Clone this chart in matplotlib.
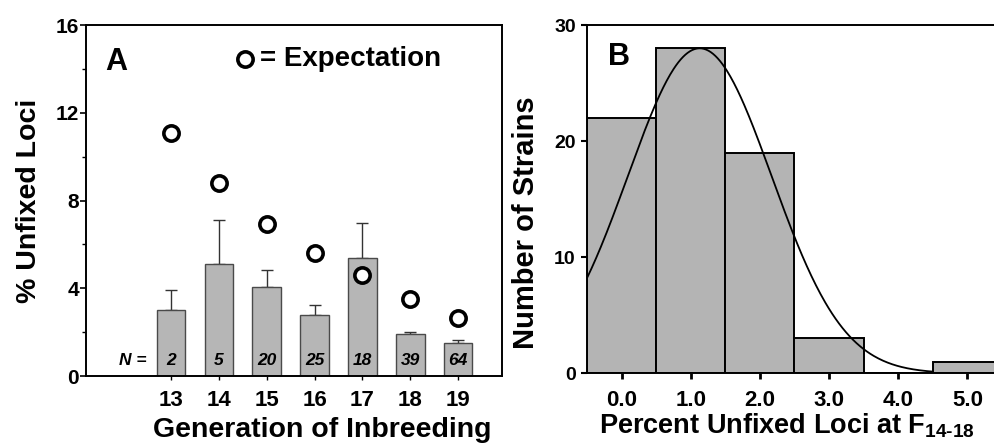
import numpy as np
import matplotlib.pyplot as plt

plt.rcParams['font.family'] = ['Liberation Sans', 'DejaVu Sans']
plt.rcParams['font.weight'] = 'bold'
plt.rcParams['mathtext.fontset'] = 'custom'
plt.rcParams['mathtext.bf'] = 'Liberation Sans:bold'
plt.rcParams['mathtext.rm'] = 'Liberation Sans:bold'
plt.rcParams['mathtext.default'] = 'bf'

# panel A data
generations = [13, 14, 15, 16, 17, 18, 19]
unfixed_mean = [3.0, 5.1, 4.05, 2.8, 5.4, 1.9, 1.5]
unfixed_err = [0.9, 2.0, 0.8, 0.45, 1.6, 0.12, 0.12]
expectation = [11.1, 8.8, 6.95, 5.6, 4.6, 3.5, 2.65]
n_strains = ['2', '5', '20', '25', '18', '39', '64']

# panel B data
pct_bins = [0.0, 1.0, 2.0, 3.0, 4.0, 5.0]
strain_counts = [22, 28, 19, 3, 0, 1]
fit_mean = 1.13
fit_sd = 1.04

fig = plt.figure(figsize=(9.94, 4.43), dpi=100)

# ---------- A ----------
ax1 = fig.add_axes([0.0865, 0.1512, 0.4185, 0.792])
ax1.bar(generations, unfixed_mean, width=0.6, color='#b6b6b6',
        edgecolor='#4a4a4a', linewidth=1.0, zorder=2)
ax1.errorbar(generations, unfixed_mean,
             yerr=[np.zeros(len(unfixed_err)), unfixed_err],
             fmt='none', ecolor='#333333', elinewidth=1.0, capsize=4,
             capthick=1.0, zorder=1)
ax1.plot(generations, expectation, 'o', markersize=11, markerfacecolor='white',
         markeredgecolor='black', markeredgewidth=2.6, linestyle='none', zorder=3)

for g, n in zip(generations, n_strains):
    ax1.text(g, 0.7, n, ha='center', va='center', fontsize=12.5,
             style='italic', fontweight='bold', zorder=4)
ax1.text(12.2, 0.7, 'N =', ha='center', va='center', fontsize=12.5,
         style='italic', fontweight='bold')

ax1.set_xlim(11.22, 19.92)
ax1.set_ylim(0, 16)
ax1.set_yticks([0, 4, 8, 12, 16])
ax1.set_yticks([2, 6, 10, 14], minor=True)
ax1.set_xticks(generations)
ax1.tick_params(axis='y', which='major', labelsize=15, length=4, width=1.2, pad=1)
ax1.tick_params(axis='y', which='minor', length=3, width=1.0)
ax1.tick_params(axis='x', labelsize=16, length=3, width=1.0, pad=7)
for s in ax1.spines.values():
    s.set_linewidth(1.4)

ax1.set_ylabel('% Unfixed Loci', fontsize=20.5, fontweight='bold')
ax1.yaxis.set_label_coords(-0.105, 0.5)
ax1.set_xlabel('Generation of Inbreeding', fontsize=20.5, fontweight='bold')
ax1.xaxis.set_label_coords(0.569, -0.118)

ax1.text(0.072, 0.895, 'A', transform=ax1.transAxes, fontsize=22,
         fontweight='bold', ha='center', va='center')
ax1.plot([0.382], [0.903], 'o', transform=ax1.transAxes, markersize=11,
         markerfacecolor='white', markeredgecolor='black', markeredgewidth=2.6)
ax1.text(0.418, 0.903, '= Expectation', transform=ax1.transAxes, fontsize=20,
         fontweight='bold', ha='left', va='center')

# ---------- B ----------
ax2 = fig.add_axes([0.5905, 0.1573, 0.4175, 0.786])
ax2.bar(pct_bins, strain_counts, width=1.0, color='#b4b4b4',
        edgecolor='black', linewidth=1.4, zorder=2)

xc = np.linspace(-0.5, 4.5, 300)
yc = sum(strain_counts) * np.exp(-0.5 * ((xc - fit_mean) / fit_sd) ** 2) / (fit_sd * np.sqrt(2 * np.pi))
ax2.plot(xc, yc, color='black', linewidth=1.3, zorder=3)

ax2.set_xlim(-0.5, 5.5)
ax2.set_ylim(0, 30)
ax2.set_yticks([0, 10, 20, 30])
ax2.set_xticks(pct_bins)
ax2.set_xticklabels(['0.0', '1.0', '2.0', '3.0', '4.0', '5.0'])
ax2.tick_params(axis='y', labelsize=14, length=4, width=1.5, pad=4)
ax2.tick_params(axis='x', labelsize=16, length=4, width=2.0, pad=8)
for s in ax2.spines.values():
    s.set_linewidth(1.4)

ax2.set_ylabel('Number of Strains', fontsize=21, fontweight='bold')
ax2.yaxis.set_label_coords(-0.113, 0.434)
ax2.set_xlabel(r'Percent Unfixed Loci at F$_{14\text{-}18}$', fontsize=19.5,
               fontweight='bold')
ax2.xaxis.set_label_coords(0.482, -0.11)

ax2.text(0.077, 0.908, 'B', transform=ax2.transAxes, fontsize=22,
         fontweight='bold', ha='center', va='center')

fig.savefig('out.png', dpi=100)
